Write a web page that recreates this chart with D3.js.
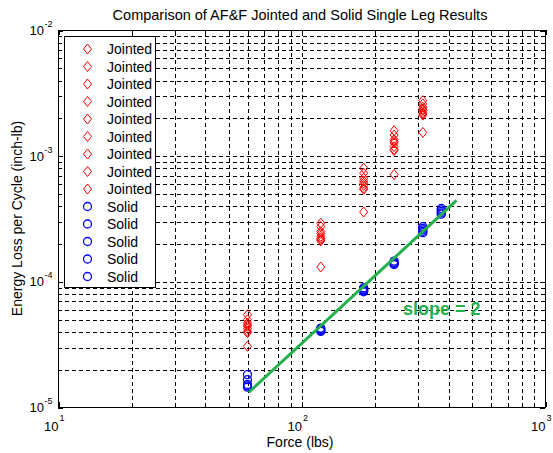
<!DOCTYPE html>
<html>
<head>
<meta charset="utf-8">
<script src="https://cdn.jsdelivr.net/npm/d3@7"></script>
<style>
  html, body { margin: 0; padding: 0; background: #fff; }
  svg { display: block; font-family: "Liberation Sans", Arial, sans-serif; }
</style>
</head>
<body>
<svg id="chart" width="553" height="453"></svg>
<script>
// Loads (lbs) at which each specimen was tested
const jointedForces = [60, 120, 180, 240, 315];
const solidForces = [60, 120, 180, 240, 315, 375];

// Energy loss per cycle (inch-lb), one array per jointed specimen
const jointed1 = [5.42e-5, 2.90e-4, 7.96e-4, 1.58e-3, 2.74e-3];
const jointed2 = [4.95e-5, 2.73e-4, 7.26e-4, 1.46e-3, 2.58e-3];
const jointed3 = [4.66e-5, 2.49e-4, 6.62e-4, 1.34e-3, 2.43e-3];
const jointed4 = [4.50e-5, 2.40e-4, 6.30e-4, 1.30e-3, 2.35e-3];
const jointed5 = [4.38e-5, 2.28e-4, 6.04e-4, 1.26e-3, 2.29e-3];
const jointed6 = [4.20e-5, 2.20e-4, 5.80e-4, 1.18e-3, 2.20e-3];
const jointed7 = [4.00e-5, 2.14e-4, 5.51e-4, 1.12e-3, 2.15e-3];
const jointed8 = [3.90e-5, 2.10e-4, 5.40e-4, 1.10e-3, 2.10e-3];
const jointed9 = [3.04e-5, 1.30e-4, 3.56e-4, 7.08e-4, 1.53e-3];

// Energy loss per cycle (inch-lb), one array per solid specimen
const solid1 = [1.81e-5, 4.25e-5, 8.90e-5, 1.45e-4, 2.72e-4, 3.80e-4];
const solid2 = [1.65e-5, 4.18e-5, 8.70e-5, 1.42e-4, 2.64e-4, 3.70e-4];
const solid3 = [1.51e-5, 4.12e-5, 8.57e-5, 1.40e-4, 2.57e-4, 3.60e-4];
const solid4 = [1.47e-5, 4.06e-5, 8.40e-5, 1.38e-4, 2.50e-4, 3.50e-4];
const solid5 = [1.44e-5, 4.00e-5, 8.25e-5, 1.36e-4, 2.44e-4, 3.42e-4];

// Reference power-law line through the solid results
const fitForces = [60.8, 433];
const fitEnergy = [1.31e-5, 4.4e-4];
const fitLabel = "slope = 2";

// Axis decades
const xMajor = [10, 100, 1000];
const yMajor = [1e-5, 1e-4, 1e-3, 1e-2];
const xExponents = ["1", "2", "3"];
const yExponents = ["-5", "-4", "-3", "-2"];

const titleText = "Comparison of AF&F Jointed and Solid Single Leg Results";
const xLabel = "Force (lbs)";
const yLabel = "Energy Loss per Cycle (inch-lb)";

const jointedSeries = [jointed1, jointed2, jointed3, jointed4, jointed5, jointed6, jointed7, jointed8, jointed9];
const solidSeries = [solid1, solid2, solid3, solid4, solid5];

const plotLeft = 58, plotRight = 545, plotTop = 30, plotBottom = 407;
const svg = d3.select("#chart");

const x = d3.scaleLog().domain([10, 1000]).range([plotLeft, plotRight]);
const y = d3.scaleLog().domain([1e-5, 1e-2]).range([plotBottom, plotTop]);

// every 1..9 multiple inside the decade range
function decadeSteps(lo, hi) {
  const out = [];
  for (let d = lo; d < hi * 0.999; d *= 10)
    for (let k = 1; k < 10; k++) out.push(d * k);
  out.push(hi);
  return out;
}
const xAll = decadeSteps(10, 1000);
const yAll = decadeSteps(1e-5, 1e-2);
const xMinor = xAll.filter(v => !xMajor.some(m => Math.abs(m - v) / m < 1e-9));
const yMinor = yAll.filter(v => !yMajor.some(m => Math.abs(m - v) / m < 1e-9));

const plotW = plotRight - plotLeft, plotH = plotBottom - plotTop;

// dashed grid
const gridX = svg.append("g").attr("transform", `translate(0.5,${plotBottom})`)
  .call(d3.axisBottom(x).tickValues(xAll.slice(1, -1)).tickSize(-plotH).tickFormat(""));
const gridY = svg.append("g").attr("transform", `translate(${plotLeft},0.5)`)
  .call(d3.axisLeft(y).tickValues(yAll.slice(1, -1)).tickSize(-plotW).tickFormat(""));
[gridX, gridY].forEach(g => {
  g.select(".domain").remove();
  g.selectAll("line").attr("stroke", "#000").attr("stroke-dasharray", "4,3").attr("shape-rendering", "crispEdges");
});

// inward ticks on all four sides
function tickAxis(gen, vals, len, tx, ty) {
  const g = svg.append("g").attr("transform", `translate(${tx},${ty})`)
    .call(gen.tickValues(vals).tickSizeInner(-len).tickSizeOuter(0).tickFormat(""));
  g.select(".domain").remove();
  g.selectAll("line").attr("stroke", "#000").attr("shape-rendering", "crispEdges");
}
tickAxis(d3.axisBottom(x), xMajor, 5, 0.5, plotBottom);
tickAxis(d3.axisBottom(x), xMinor, 3, 0.5, plotBottom);
tickAxis(d3.axisTop(x), xMajor, 5, 0.5, plotTop);
tickAxis(d3.axisTop(x), xMinor, 3, 0.5, plotTop);
tickAxis(d3.axisLeft(y), yMajor, 5, plotLeft, 0.5);
tickAxis(d3.axisLeft(y), yMinor, 3, plotLeft, 0.5);
tickAxis(d3.axisRight(y), yMajor, 5, plotRight, 0.5);
tickAxis(d3.axisRight(y), yMinor, 3, plotRight, 0.5);

// axes box
svg.append("rect")
  .attr("x", plotLeft + 0.5).attr("y", plotTop + 0.5)
  .attr("width", plotW).attr("height", plotH)
  .attr("fill", "none").attr("stroke", "#000").attr("shape-rendering", "crispEdges");

// power-of-ten tick labels
xMajor.forEach((v, i) => {
  const px = x(v);
  svg.append("text").attr("x", px + 0.5).attr("y", 431).attr("text-anchor", "end")
    .attr("font-size", 13).text("10");
  svg.append("text").attr("x", px + 1.5).attr("y", 421).attr("font-size", 9).text(xExponents[i]);
});
yMajor.forEach((v, i) => {
  const py = y(v);
  svg.append("text").attr("x", 44).attr("y", py + 5).attr("text-anchor", "end")
    .attr("font-size", 13).text("10");
  svg.append("text").attr("x", 44.5).attr("y", py - 3).attr("font-size", 9).text(yExponents[i]);
});

// titles
svg.append("text").attr("x", 300).attr("y", 20).attr("text-anchor", "middle")
  .attr("font-size", 14.5).text(titleText);
svg.append("text").attr("x", 300).attr("y", 447).attr("text-anchor", "middle")
  .attr("font-size", 14).text(xLabel);
svg.append("text").attr("transform", `translate(22,${(plotTop + plotBottom) / 2}) rotate(-90)`)
  .attr("text-anchor", "middle").attr("font-size", 14).text(yLabel);

// markers
const diamond = "M0,-5L4,0L0,5L-4,0Z";
const red = "#ff0000", blue = "#0000ff", green = "#22b14c";

jointedSeries.forEach(series => {
  svg.append("g").selectAll("path").data(series).join("path")
    .attr("d", diamond)
    .attr("transform", (d, i) => `translate(${x(jointedForces[i])},${y(d)})`)
    .attr("fill", "none").attr("stroke", red).attr("stroke-width", 1);
});
solidSeries.forEach(series => {
  svg.append("g").selectAll("circle").data(series).join("circle")
    .attr("cx", (d, i) => x(solidForces[i])).attr("cy", d => y(d)).attr("r", 4)
    .attr("fill", "none").attr("stroke", blue).attr("stroke-width", 1.3);
});

// fitted line and its annotation
svg.append("path")
  .datum(fitForces.map((f, i) => [f, fitEnergy[i]]))
  .attr("d", d3.line().x(d => x(d[0])).y(d => y(d[1])))
  .attr("stroke", green).attr("stroke-width", 3).attr("fill", "none");
svg.append("text").attr("x", 403).attr("y", 315).attr("font-size", 18)
  .attr("font-weight", "bold").attr("fill", green).text(fitLabel);

// legend
const legendItems = [
  ...jointedSeries.map(() => ({ name: "Jointed", kind: "d" })),
  ...solidSeries.map(() => ({ name: "Solid", kind: "c" }))
];
const lg = svg.append("g");
lg.append("rect").attr("x", 64.5).attr("y", 36.5).attr("width", 91).attr("height", 251)
  .attr("fill", "#fff").attr("stroke", "#000").attr("shape-rendering", "crispEdges");
legendItems.forEach((it, i) => {
  const cy = 49 + i * 17.5;
  if (it.kind === "d") {
    lg.append("path").attr("d", diamond).attr("transform", `translate(87.5,${cy})`)
      .attr("fill", "none").attr("stroke", red);
  } else {
    lg.append("circle").attr("cx", 87.5).attr("cy", cy).attr("r", 4)
      .attr("fill", "none").attr("stroke", blue).attr("stroke-width", 1.3);
  }
  lg.append("text").attr("x", 107).attr("y", cy + 5).attr("font-size", 14).text(it.name);
});
</script>
</body>
</html>
